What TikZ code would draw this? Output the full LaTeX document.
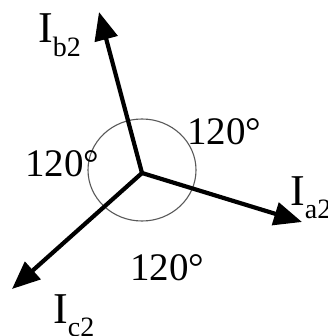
\documentclass[tikz,border=0pt]{standalone}
\usepackage{fontspec}
\setmainfont{Liberation Serif}
\usetikzlibrary{arrows.meta,positioning}
\newcommand{\phcur}[1]{I\raisebox{-0.3em}{\fontsize{28}{30}\selectfont #1}}
\begin{document}
\begin{tikzpicture}[
                x=1pt, y=-1pt,
                fasor/.style={-{Triangle[length=28pt,width=23pt]}, line width=4.2pt, black},
                anillo/.style={draw=black!65, line width=1.1pt},
                etiq/.style={anchor=base west, inner sep=0pt, font=\fontsize{44}{46}\selectfont},
                grados/.style={anchor=base west, inner sep=0pt, font=\fontsize{39}{41}\selectfont}
            ]
            \useasboundingbox (0,0) rectangle (327,336);

            % origin and phasor tips
            \coordinate (O) at (142,173);
            \coordinate (A) at (302,222);
            \coordinate (B) at (99,12);
            \coordinate (C) at (12,289);

            % angle ring
            \draw[anillo] (142,170) ellipse [x radius=54, y radius=51];

            % negative-sequence phasors
            \draw[fasor] (O) -- (A);
            \draw[fasor] (O) -- (B);
            \draw[fasor] (O) -- (C);

            % phasor names
            \node[etiq] (la) at (290,205) {\phcur{a2}};
            \node[etiq] (lb) at (38,43) {\phcur{b2}};
            \node[etiq] (lc) at (53,323) {\phcur{c2}};

            % angles
            \node[grados] (g1) at (187,145) {120°};
            \node[grados] (g2) at (25,176) {120°};
            \node[grados] (g3) at (130,280) {120°};
        \end{tikzpicture}
\end{document}
